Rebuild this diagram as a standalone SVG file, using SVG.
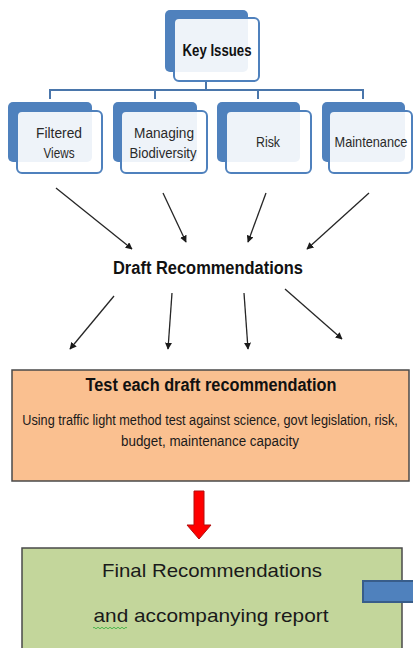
<svg xmlns="http://www.w3.org/2000/svg" width="413" height="648" viewBox="0 0 413 648">
<defs>
<marker id="ah" viewBox="0 0 10 10" refX="9" refY="5" markerWidth="7" markerHeight="7" markerUnits="userSpaceOnUse" orient="auto">
<path d="M0,0 L10,5 L0,10 z" fill="#1a1a1a"/>
</marker>
</defs>
<style>
.back{fill:#4F81BD;}
.front{fill:#ffffff;fill-opacity:0.9;stroke:#4F81BD;stroke-width:2;}
.tree{fill:none;stroke:#4A76AB;stroke-width:2;}
.arr{stroke:#262626;stroke-width:1.3;fill:none;marker-end:url(#ah);}
.lbl{font-family:"Liberation Sans",Arial,sans-serif;font-size:14px;fill:#2a2a2a;text-anchor:middle;}
.bold{font-family:"Liberation Sans",Arial,sans-serif;font-weight:bold;fill:#111111;text-anchor:middle;}
.body{font-family:"Liberation Sans",Arial,sans-serif;fill:#1a1a1a;text-anchor:middle;}
</style>
<rect width="413" height="648" fill="#ffffff"/>
<g id="connectors">
<path class="tree" d="M206,81 V90 M50,99 V90 H363 V99 M155,90 V99 M258,90 V99"/>
<line class="arr" x1="56" y1="188" x2="132" y2="249"/>
<line class="arr" x1="163" y1="193" x2="186" y2="242"/>
<line class="arr" x1="266" y1="193" x2="248" y2="242"/>
<line class="arr" x1="369" y1="193" x2="307" y2="249"/>
<line class="arr" x1="114" y1="296" x2="70" y2="349"/>
<line class="arr" x1="172" y1="293" x2="168" y2="349"/>
<line class="arr" x1="244" y1="293" x2="248" y2="349"/>
<line class="arr" x1="285" y1="289" x2="342" y2="339"/>
<path id="red-arrow" d="M194,491 H204 V525 H211 L199,539 L187,525 H194 Z" fill="#FF0000" stroke="#B01010" stroke-width="1"/>
</g>
<g id="key-issues">
<rect class="back" x="165" y="10" width="83" height="62" rx="5"/>
<rect class="front" x="174" y="18" width="85" height="63" rx="5"/>
<text class="bold" x="217" y="56" font-size="16.5" fill="#14142a" textLength="69" lengthAdjust="spacingAndGlyphs">Key Issues</text>
</g>
<g id="filtered-views">
<rect class="back" x="8" y="102" width="84" height="60" rx="5"/>
<rect class="front" x="17" y="111" width="85" height="62" rx="5"/>
<text class="lbl" x="59" y="138" textLength="46" lengthAdjust="spacingAndGlyphs">Filtered</text>
<text class="lbl" x="59" y="158" textLength="31" lengthAdjust="spacingAndGlyphs">Views</text>
</g>
<g id="managing-biodiversity">
<rect class="back" x="113" y="102" width="84" height="60" rx="5"/>
<rect class="front" x="121" y="111" width="86" height="62" rx="5"/>
<text class="lbl" x="164" y="138" textLength="60" lengthAdjust="spacingAndGlyphs">Managing</text>
<text class="lbl" x="163" y="158" textLength="67" lengthAdjust="spacingAndGlyphs">Biodiversity</text>
</g>
<g id="risk">
<rect class="back" x="217" y="102" width="83" height="60" rx="5"/>
<rect class="front" x="226" y="111" width="85" height="62" rx="5"/>
<text class="lbl" x="268" y="147" textLength="24" lengthAdjust="spacingAndGlyphs">Risk</text>
</g>
<g id="maintenance">
<rect class="back" x="322" y="102" width="83" height="60" rx="5"/>
<rect class="front" x="329" y="111" width="83" height="62" rx="5"/>
<text class="lbl" transform="translate(371,147) scale(0.91,1)" x="0" y="0">Maintenance</text>
</g>
<g id="draft-recommendations">
<text class="bold" x="208" y="274" font-size="17.5" textLength="190" lengthAdjust="spacingAndGlyphs">Draft Recommendations</text>
</g>
<g id="test-box">
<rect x="12" y="370" width="397" height="111" fill="#FAC090" stroke="#4a4a4a" stroke-width="1.5"/>
<text class="bold" x="211" y="391" font-size="17.5" textLength="251" lengthAdjust="spacingAndGlyphs">Test each draft recommendation</text>
<text class="body" font-size="15" transform="translate(210,425) scale(0.847,1)" x="0" y="0">Using traffic light method test against science, govt legislation, risk,</text>
<text class="body" font-size="15" transform="translate(210,446) scale(0.893,1)" x="0" y="0">budget, maintenance capacity</text>
</g>
<g id="final-box">
<rect x="22" y="548" width="380" height="110" fill="#C3D69B" stroke="#4a4a4a" stroke-width="1.5"/>
<text class="body" x="212" y="577" font-size="19" textLength="220" lengthAdjust="spacingAndGlyphs">Final Recommendations</text>
<text class="body" x="211" y="622" font-size="19" textLength="235" lengthAdjust="spacingAndGlyphs">and accompanying report</text>
<path d="M93,628 q1,-1.5 2,0 t2,0 t2,0 t2,0 t2,0 t2,0 t2,0 t2,0 t2,0 t2,0 t2,0 t2,0 t2,0 t2,0 t2,0 t2,0 t2,0" fill="none" stroke="#3CB043" stroke-width="0.9"/>
</g>
<g id="blue-bar">
<rect x="363" y="581" width="60" height="21" fill="#4F81BD" stroke="#385D8A" stroke-width="2"/>
</g>
</svg>
